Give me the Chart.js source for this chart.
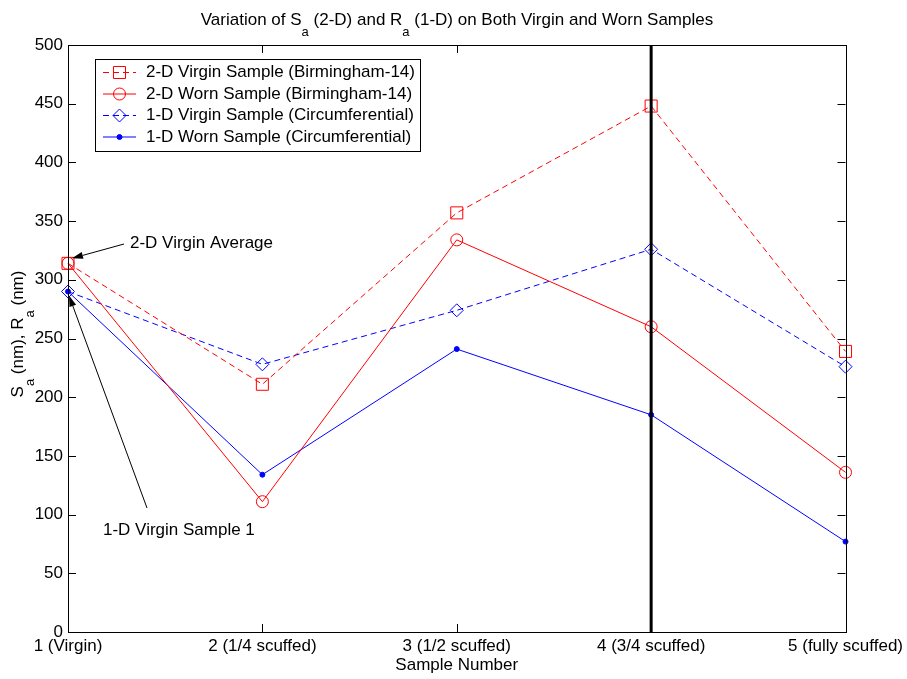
<!DOCTYPE html>
<html>
<head>
<meta charset="utf-8">
<script src="https://cdn.jsdelivr.net/npm/chart.js@4.4.1/dist/chart.umd.min.js"></script>
<style>
  html, body { margin: 0; padding: 0; background: #fff; }
  #wrap { width: 907px; height: 679px; }
</style>
</head>
<body>
<div id="wrap"><canvas id="roughnessChart" width="907" height="679"></canvas></div>
<script>
// sample numbers along the x axis
const sampleLabels = ['1 (Virgin)', '2 (1/4 scuffed)', '3 (1/2 scuffed)', '4 (3/4 scuffed)', '5 (fully scuffed)'];

// roughness values in nm
const virgin2D = [314, 211, 357, 448, 239];
const worn2D = [314, 111, 334, 260, 136];
const virgin1D = [290, 228, 274, 326, 226];
const worn1D = [290, 134, 241, 185, 77];

const seriesNames = [
    '2-D Virgin Sample (Birmingham-14)',
    '2-D Worn Sample (Birmingham-14)',
    '1-D Virgin Sample (Circumferential)',
    '1-D Worn Sample (Circumferential)'
];

const yMin = 0;
const yMax = 500;
const yStep = 50;
const markedSample = 3;   // index of the sample with the vertical marker line

const FONT = "'Liberation Sans', Arial, sans-serif";
const FONT_SIZE = 17;

// draws text with subscripts, parts = [[text, isSub], ...]
function drawRichText(ctx, parts, x, y, size, family) {
    const subSize = Math.round(size * 0.78);
    let total = 0;
    parts.forEach(p => {
        ctx.font = (p[1] ? subSize : size) + 'px ' + family;
        total += ctx.measureText(p[0]).width;
    });
    let cx = x - total / 2;
    ctx.textAlign = 'left';
    ctx.textBaseline = 'middle';
    parts.forEach(p => {
        ctx.font = (p[1] ? subSize : size) + 'px ' + family;
        ctx.fillText(p[0], cx, p[1] ? y + size * 0.72 : y);
        cx += ctx.measureText(p[0]).width;
    });
}

function drawArrow(ctx, x0, y0, x1, y1) {
    const ang = Math.atan2(y1 - y0, x1 - x0);
    const len = 11, half = 3.5;
    const bx = x1 - Math.cos(ang) * len, by = y1 - Math.sin(ang) * len;
    ctx.save();
    ctx.strokeStyle = '#000';
    ctx.fillStyle = '#000';
    ctx.lineWidth = 1;
    ctx.beginPath();
    ctx.moveTo(x0, y0);
    ctx.lineTo(bx, by);
    ctx.stroke();
    ctx.beginPath();
    ctx.moveTo(x1, y1);
    ctx.lineTo(bx + Math.sin(ang) * half, by - Math.cos(ang) * half);
    ctx.lineTo(bx - Math.sin(ang) * half, by + Math.cos(ang) * half);
    ctx.closePath();
    ctx.fill();
    ctx.restore();
}

const framePlugin = {
    id: 'matlabFrame',
    afterDatasetsDraw(chart) {
        const ctx = chart.ctx;
        const area = chart.chartArea;
        const xs = chart.scales.x;
        const ys = chart.scales.y;

        ctx.save();

        // thick vertical marker at sample 4
        const vx = xs.getPixelForValue(markedSample);
        ctx.strokeStyle = '#000';
        ctx.lineWidth = 3;
        ctx.beginPath();
        ctx.moveTo(vx, area.top);
        ctx.lineTo(vx, area.bottom);
        ctx.stroke();

        // axes box
        ctx.lineWidth = 1;
        ctx.strokeRect(Math.round(area.left) + 0.5, Math.round(area.top) + 0.5,
            Math.round(area.right - area.left), Math.round(area.bottom - area.top));

        // inward tick marks on all four sides
        const tl = 8;
        ctx.beginPath();
        for (let v = yMin; v <= yMax; v += yStep) {
            const py = Math.round(ys.getPixelForValue(v)) + 0.5;
            ctx.moveTo(area.left, py); ctx.lineTo(area.left + tl, py);
            ctx.moveTo(area.right, py); ctx.lineTo(area.right - tl, py);
        }
        sampleLabels.forEach((lab, i) => {
            const px = Math.round(xs.getPixelForValue(i)) + 0.5;
            ctx.moveTo(px, area.bottom); ctx.lineTo(px, area.bottom - tl);
            ctx.moveTo(px, area.top); ctx.lineTo(px, area.top + tl);
        });
        ctx.stroke();

        // text arrows
        const p0x = xs.getPixelForValue(0);
        drawArrow(ctx, 124, 244, p0x + 4, ys.getPixelForValue(virgin2D[0]) - 5);
        drawArrow(ctx, 147, 508, p0x + 1, ys.getPixelForValue(virgin1D[0]) + 4);
        ctx.fillStyle = '#000';
        ctx.font = FONT_SIZE + 'px ' + FONT;
        ctx.textAlign = 'left';
        ctx.textBaseline = 'middle';
        ctx.fillText('2-D Virgin Average', 130, 243);
        ctx.fillText('1-D Virgin Sample 1', 103, 530);

        // legend box
        const lx = 95, ly = 59, lw = 325, lh = 92;
        ctx.fillStyle = '#fff';
        ctx.fillRect(lx, ly, lw, lh);
        ctx.strokeStyle = '#000';
        ctx.lineWidth = 1;
        ctx.strokeRect(lx + 0.5, ly + 0.5, lw, lh);
        const rowY = [72.5, 94, 115.5, 137];
        chart.data.datasets.forEach((ds, i) => {
            const y = rowY[i];
            ctx.save();
            ctx.strokeStyle = ds.borderColor;
            ctx.lineWidth = 1;
            ctx.setLineDash(ds.borderDash || []);
            ctx.beginPath();
            ctx.moveTo(103, y);
            ctx.lineTo(136, y);
            ctx.stroke();
            ctx.setLineDash([]);
            ctx.fillStyle = ds.pointBackgroundColor;
            ctx.strokeStyle = ds.pointBorderColor;
            Chart.helpers.drawPoint(ctx, {
                pointStyle: ds.pointStyle, radius: ds.pointRadius,
                borderWidth: 1, rotation: 0
            }, 119.5, y);
            ctx.restore();
            ctx.fillStyle = '#000';
            ctx.font = FONT_SIZE + 'px ' + FONT;
            ctx.textAlign = 'left';
            ctx.textBaseline = 'middle';
            ctx.fillText(ds.label, 146, y);
        });

        // title and axis titles
        ctx.fillStyle = '#000';
        drawRichText(ctx, [['Variation of S', false], ['a', true], [' (2-D) and R', false], ['a', true],
            [' (1-D) on Both Virgin and Worn Samples', false]], 457, 20, FONT_SIZE, FONT);
        ctx.font = FONT_SIZE + 'px ' + FONT;
        ctx.textAlign = 'center';
        ctx.textBaseline = 'middle';
        ctx.fillText('Sample Number', (area.left + area.right) / 2, 665);
        ctx.save();
        ctx.translate(18, 334);
        ctx.rotate(-Math.PI / 2);
        drawRichText(ctx, [['S', false], ['a', true], [' (nm), R', false], ['a', true], [' (nm)', false]],
            0, 0, FONT_SIZE, FONT);
        ctx.restore();

        ctx.restore();
    }
};

function makeSeries(label, data, color, dashed, style, radius, filled) {
    return {
        label: label,
        data: data,
        borderColor: color,
        borderWidth: 1,
        borderDash: dashed ? [6, 4] : [],
        pointStyle: style,
        pointRadius: radius,
        pointBorderWidth: 1,
        pointBorderColor: color,
        pointBackgroundColor: filled ? color : 'rgba(0,0,0,0)',
        pointHoverRadius: radius,
        tension: 0,
        fill: false,
        clip: false
    };
}

const ctx = document.getElementById('roughnessChart').getContext('2d');
window.roughnessChart = new Chart(ctx, {
    type: 'line',
    data: {
        labels: sampleLabels,
        datasets: [
            makeSeries(seriesNames[0], virgin2D, '#ff0000', true, 'rect', 8.5, false),
            makeSeries(seriesNames[1], worn2D, '#ff0000', false, 'circle', 6, false),
            makeSeries(seriesNames[2], virgin1D, '#0000ff', true, 'rectRot', 6.5, false),
            makeSeries(seriesNames[3], worn1D, '#0000ff', false, 'circle', 2.5, true)
        ]
    },
    options: {
        responsive: false,
        animation: false,
        devicePixelRatio: 1,
        layout: { padding: { left: 0, right: 60, top: 45, bottom: 0 } },
        plugins: {
            legend: { display: false },
            title: { display: false },
            tooltip: { enabled: false }
        },
        scales: {
            x: {
                type: 'category',
                offset: false,
                grid: { display: false, drawTicks: false },
                border: { display: false },
                ticks: {
                    color: '#000',
                    font: { family: FONT, size: FONT_SIZE },
                    padding: 4,
                    maxRotation: 0,
                    autoSkip: false
                },
                afterFit: scale => { scale.height = 47; }
            },
            y: {
                min: yMin,
                max: yMax,
                grid: { display: false, drawTicks: false },
                border: { display: false },
                ticks: {
                    stepSize: yStep,
                    color: '#000',
                    font: { family: FONT, size: FONT_SIZE },
                    padding: 5
                },
                afterFit: scale => { scale.width = 68; }
            }
        }
    },
    plugins: [framePlugin]
});
</script>
</body>
</html>
